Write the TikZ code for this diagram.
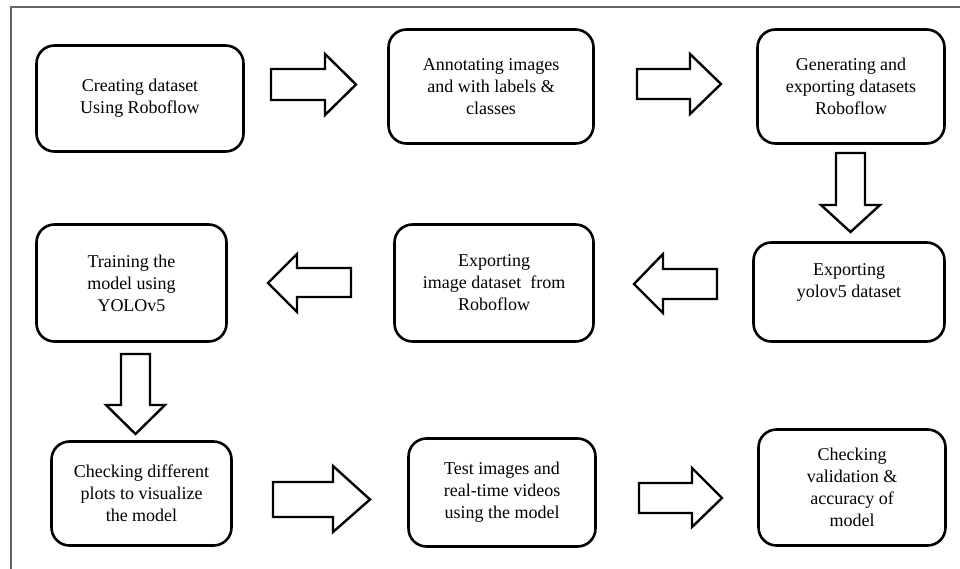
\documentclass[tikz,border=0pt]{standalone}
\usepackage{fontspec}
\setmainfont{Liberation Serif}
\begin{document}
\begin{tikzpicture}[x=1pt,y=-1pt,
  box/.style={draw=black,line width=2.6pt,rounded corners=18pt,rectangle,align=center,
    font=\fontsize{18}{22}\selectfont,inner sep=2pt},
  blk/.style={draw=black,line width=2.4pt,fill=white,line join=miter}]
\useasboundingbox (0,0) rectangle (960,569);
% frame
\draw[color=black!60,line width=1.3pt] (11,569) -- (11,7) -- (960,7);
% boxes
\node[box,minimum width=207pt,minimum height=106pt] (b1) at (140,98.5) {Creating dataset\\Using Roboflow};
\node[box,minimum width=205pt,minimum height=114pt] (b2) at (491,86.5) {Annotating images\\and with labels \&\\classes};
\node[box,minimum width=187pt,minimum height=114pt] (b3) at (851,86.5) {Generating and\\exporting datasets\\Roboflow};
\node[box,minimum width=191pt,minimum height=99pt] (b4) at (849,292) {Exporting\\yolov5 dataset\\\mbox{}};
\node[box,minimum width=199pt,minimum height=117pt] (b5) at (494,283) {Exporting\\image dataset\ \ from\\Roboflow};
\node[box,minimum width=190pt,minimum height=117pt] (b6) at (131.5,283) {Training the\\model using\\YOLOv5};
\node[box,minimum width=180pt,minimum height=104pt] (b7) at (141.5,493.5) {Checking different\\plots to visualize\\the model};
\node[box,minimum width=187pt,minimum height=108pt] (b8) at (502,492.5) {Test images and\\real-time videos\\using the model};
\node[box,minimum width=187pt,minimum height=116pt] (b9) at (852,487.5) {Checking\\validation \&\\accuracy of\\model};
% block arrows
% b1 -> b2
\draw[blk] (271,69) -- (325,69) -- (325,54) -- (356,84.5) -- (325,115) -- (325,100) -- (271,100) -- cycle;
% b2 -> b3
\draw[blk] (637,69) -- (690,69) -- (690,54) -- (721,84) -- (690,114) -- (690,99) -- (637,99) -- cycle;
% b3 -> b4
\draw[blk] (836,153) -- (836,205) -- (821,205) -- (850.5,232) -- (880,205) -- (865,205) -- (865,153) -- cycle;
% b4 -> b5
\draw[blk] (717,269) -- (663,269) -- (663,254) -- (634,284) -- (663,313) -- (663,299) -- (717,299) -- cycle;
% b5 -> b6
\draw[blk] (351,268) -- (297,268) -- (297,254) -- (268,283) -- (297,312) -- (297,297) -- (351,297) -- cycle;
% b6 -> b7
\draw[blk] (121,354) -- (121,405) -- (106,405) -- (135.5,434) -- (165,405) -- (150,405) -- (150,354) -- cycle;
% b7 -> b8
\draw[blk] (273,482) -- (333,482) -- (333,466) -- (370,499.5) -- (333,532) -- (333,517) -- (273,517) -- cycle;
% b8 -> b9
\draw[blk] (639,483) -- (692,483) -- (692,468) -- (722,498) -- (692,527) -- (692,513) -- (639,513) -- cycle;
\end{tikzpicture}
\end{document}
